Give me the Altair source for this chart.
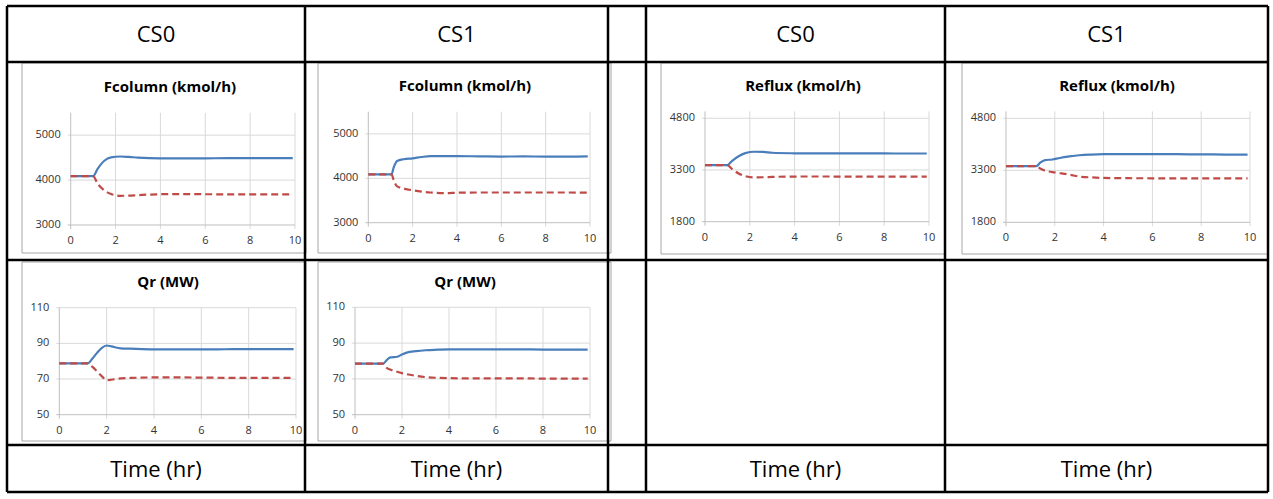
import altair as alt
import pandas as pd

# ---------------- data ----------------
XT = [0, 2, 4, 6, 8, 10]

# Fcolumn (kmol/h), CS0
t_f0 = [0, 1.0, 1.2, 1.5, 1.8, 2.2, 2.6, 3.0, 4, 5, 6, 7, 8, 9, 9.9]
f0_up = [4090, 4090, 4250, 4430, 4505, 4525, 4515, 4500, 4485, 4485, 4485, 4487, 4490, 4490, 4490]
f0_dn = [4090, 4090, 3920, 3770, 3690, 3650, 3655, 3665, 3685, 3688, 3685, 3683, 3682, 3680, 3680]

# Fcolumn (kmol/h), CS1
t_f1 = [0, 1.05, 1.15, 1.3, 1.6, 2.0, 2.4, 2.8, 3.5, 4, 5, 6, 7, 8, 9, 9.9]
f1_up = [4090, 4090, 4250, 4390, 4430, 4450, 4480, 4500, 4500, 4500, 4495, 4490, 4492, 4490, 4490, 4495]
f1_dn = [4090, 4090, 3950, 3820, 3770, 3730, 3700, 3680, 3665, 3675, 3680, 3680, 3680, 3680, 3680, 3675]

# Reflux (kmol/h), CS0
t_r0 = [0, 1.0, 1.2, 1.5, 1.8, 2.2, 2.6, 3.0, 4, 5, 6, 7, 8, 9, 9.9]
r0_up = [3440, 3440, 3560, 3700, 3790, 3830, 3825, 3800, 3785, 3780, 3780, 3780, 3780, 3778, 3778]
r0_dn = [3440, 3440, 3330, 3200, 3120, 3085, 3090, 3100, 3110, 3112, 3110, 3110, 3108, 3108, 3108]

# Reflux (kmol/h), CS1
t_r1 = [0, 1.25, 1.4, 1.6, 1.9, 2.2, 2.6, 3.0, 3.5, 4, 5, 6, 7, 8, 9, 9.9]
r1_up = [3420, 3420, 3520, 3595, 3612, 3655, 3700, 3735, 3755, 3765, 3768, 3768, 3765, 3760, 3755, 3750]
r1_dn = [3420, 3420, 3350, 3290, 3250, 3220, 3175, 3120, 3095, 3080, 3072, 3070, 3068, 3068, 3068, 3068]

# Qr (MW), CS0
t_q0 = [0, 1.2, 1.4, 1.6, 1.8, 2.0, 2.2, 2.6, 3.0, 4, 5, 6, 7, 8, 9, 9.9]
q0_up = [78.8, 78.8, 81.5, 84.8, 87.5, 88.8, 88.3, 87.2, 87.0, 86.6, 86.6, 86.6, 86.7, 86.8, 86.8, 86.8]
q0_dn = [78.8, 78.8, 76.8, 74.2, 71.5, 69.3, 69.6, 70.4, 70.6, 70.9, 70.9, 70.8, 70.7, 70.6, 70.6, 70.6]

# Qr (MW), CS1
t_q1 = [0, 1.2, 1.35, 1.5, 1.8, 2.0, 2.2, 2.6, 3.0, 3.5, 4, 5, 6, 7, 8, 9, 9.9]
q1_up = [78.5, 78.5, 80.5, 82.0, 82.4, 83.6, 84.7, 85.5, 86.0, 86.3, 86.5, 86.5, 86.5, 86.5, 86.4, 86.4, 86.4]
q1_dn = [78.5, 78.5, 76.2, 75.2, 74.0, 73.2, 72.6, 71.7, 71.0, 70.6, 70.4, 70.3, 70.3, 70.3, 70.2, 70.2, 70.2]

F_TICKS = [3000, 4000, 5000]
R_TICKS = [1800, 3300, 4800]
Q_TICKS = [50, 70, 90, 110]

HEADERS = ["CS0", "CS1", "CS0", "CS1"]
FOOTER = "Time (hr)"
TITLES = ["Fcolumn (kmol/h)", "Reflux (kmol/h)", "Qr (MW)"]

# ---------------- layout / style ----------------
W, H = 1273, 499
BLUE = "#4a7ebb"
RED = "#be4b48"
GRID = "#d9d9d9"
AXC = "#bfbfbf"
FRAME = "#a6a6a6"
LABEL = "#333333"
FONT = "Open Sans"

T_LEFT, T_RIGHT, T_TOP, T_BOTTOM = 7, 1268, 6, 492
ROW_LINES = [62, 260, 445]
COL_LINES = [305, 608, 646, 945]
COL_CELLS = [(7, 305), (305, 608), (646, 945), (945, 1268)]


def series_df(t, up, dn):
    return pd.DataFrame({
        "t": list(t) + list(t),
        "v": list(up) + list(dn),
        "s": ["up"] * len(t) + ["dn"] * len(t),
    })


def panel(df, geo, ydom, yticks, title, title_pos):
    xl, xr, yb, yt = geo
    xs = alt.Scale(domain=[0, 10], range=[xl, xr], nice=False, zero=False)
    ys = alt.Scale(domain=ydom, range=[yb, yt], nice=False, zero=False)
    X = lambda f: alt.X(f, scale=xs, axis=None)
    Y = lambda f: alt.Y(f, scale=ys, axis=None)

    ydf = pd.DataFrame({"g": yticks, "a": 0, "b": 10, "lab": [str(v) for v in yticks]})
    xdf = pd.DataFrame({"g": XT, "a": ydom[0], "b": ydom[1], "lab": [str(v) for v in XT]})
    edge = pd.DataFrame({"x0": [0], "x1": [10], "y0": [ydom[0]], "y1": [ydom[1]]})

    hgrid = alt.Chart(ydf).transform_filter(alt.datum.g > ydom[0]).mark_rule(
        color=GRID, strokeWidth=1, xOffset=-3
    ).encode(x=X("a:Q"), x2="b:Q", y=Y("g:Q"))
    vgrid = alt.Chart(xdf).transform_filter(alt.datum.g > 0).mark_rule(
        color=GRID, strokeWidth=1, y2Offset=4
    ).encode(x=X("g:Q"), y=Y("b:Q"), y2="a:Q")
    xline = alt.Chart(edge).mark_rule(color=AXC, strokeWidth=1, xOffset=-3).encode(
        x=X("x0:Q"), x2="x1:Q", y=Y("y0:Q"),
    )
    yline = alt.Chart(edge).mark_rule(color=AXC, strokeWidth=1, y2Offset=4).encode(
        x=X("x0:Q"), y=Y("y1:Q"), y2="y0:Q",
    )
    xlab = alt.Chart(xdf).mark_text(
        font=FONT, fontSize=11, fill=LABEL, align="center", baseline="middle", dy=16
    ).encode(x=X("g:Q"), y=Y("a:Q"), text="lab:N")
    ylab = alt.Chart(ydf).mark_text(
        font=FONT, fontSize=11, fill=LABEL, align="right", baseline="middle", dx=-10
    ).encode(x=X("a:Q"), y=Y("g:Q"), text="lab:N")

    up = alt.Chart(df).transform_filter(alt.datum.s == "up").mark_line(
        color=BLUE, strokeWidth=2.2, interpolate="monotone"
    ).encode(x=X("t:Q"), y=Y("v:Q"))
    dn = alt.Chart(df).transform_filter(alt.datum.s == "dn").mark_line(
        color=RED, strokeWidth=2.2, strokeDash=[7, 4], interpolate="monotone"
    ).encode(x=X("t:Q"), y=Y("v:Q"))

    ttl = alt.Chart(pd.DataFrame({"a": [0]})).mark_text(
        font=FONT, fontSize=15, fontWeight="bold", color="#000000",
        align="center", baseline="middle"
    ).encode(
        x=alt.value(title_pos[0]), y=alt.value(title_pos[1]),
        text=alt.value(title),
    )
    return alt.layer(hgrid, vgrid, xline, yline, xlab, ylab, up, dn, ttl)


def frame(x1, x2, y1, y2):
    return alt.Chart(pd.DataFrame({"a": [0]})).mark_rect(
        fill="white", stroke=FRAME, strokeWidth=1
    ).encode(
        x=alt.value(x1), x2=alt.value(x2), y=alt.value(y1), y2=alt.value(y2)
    )


def rule(x1, x2, y1, y2, w=2.5):
    return alt.Chart(pd.DataFrame({"a": [0]})).mark_rule(
        color="black", strokeWidth=w
    ).encode(
        x=alt.value(x1), x2=alt.value(x2), y=alt.value(y1), y2=alt.value(y2)
    )


def cell_text(txt, cx, cy):
    return alt.Chart(pd.DataFrame({"a": [0]})).mark_text(
        font=FONT, fontSize=22, color="black", align="center", baseline="middle"
    ).encode(x=alt.value(cx), y=alt.value(cy), text=alt.value(txt))


frames = [
    frame(22, 306, 63, 253),
    frame(318, 611, 63, 253),
    frame(661, 945, 63, 254),
    frame(962, 1268, 63, 254),
    frame(22, 306, 262, 441),
    frame(318, 611, 262, 441),
]

panels = [
    panel(series_df(t_f0, f0_up, f0_dn), (70.7, 295, 225, 112.7), [3000, 5500], F_TICKS, TITLES[0], (170, 87)),
    panel(series_df(t_f1, f1_up, f1_dn), (368.3, 590, 222.7, 111.7), [3000, 5500], F_TICKS, TITLES[0], (465, 86)),
    panel(series_df(t_r0, r0_up, r0_dn), (705, 929, 221.7, 111.4), [1800, 5000], R_TICKS, TITLES[1], (803, 86)),
    panel(series_df(t_r1, r1_up, r1_dn), (1006, 1250, 222.3, 111.4), [1800, 5000], R_TICKS, TITLES[1], (1117, 86)),
    panel(series_df(t_q0, q0_up, q0_dn), (59.3, 296, 414.7, 307.7), [50, 110], Q_TICKS, TITLES[2], (168, 282)),
    panel(series_df(t_q1, q1_up, q1_dn), (355, 590, 414.7, 307.3), [50, 110], Q_TICKS, TITLES[2], (465, 282)),
]

footer_bg = alt.Chart(pd.DataFrame({"a": [0]})).mark_rect(fill="white").encode(
    x=alt.value(T_LEFT), x2=alt.value(T_RIGHT),
    y=alt.value(ROW_LINES[2]), y2=alt.value(T_BOTTOM),
)

lines = [
    rule(T_LEFT, T_RIGHT, T_TOP, T_TOP),
    rule(T_LEFT, T_RIGHT, T_BOTTOM, T_BOTTOM),
    rule(T_LEFT, T_LEFT, T_TOP, T_BOTTOM),
    rule(T_RIGHT, T_RIGHT, T_TOP, T_BOTTOM),
]
for y in ROW_LINES:
    lines.append(rule(T_LEFT, T_RIGHT, y, y))
for x in COL_LINES:
    lines.append(rule(x, x, T_TOP, T_BOTTOM))

texts = []
for (a, b), h in zip(COL_CELLS, HEADERS):
    texts.append(cell_text(h, (a + b) / 2, (T_TOP + ROW_LINES[0]) / 2 + 1))
    texts.append(cell_text(FOOTER, (a + b) / 2, (ROW_LINES[2] + T_BOTTOM) / 2 + 1))

chart = alt.layer(
    *frames, *panels, footer_bg, *lines, *texts
).resolve_scale(
    x="independent", y="independent"
).properties(
    width=W, height=H, padding=0, autosize="none", background="white"
).configure_view(stroke=None)

chart.save("out.html", embed_options={"renderer": "svg", "actions": False})
